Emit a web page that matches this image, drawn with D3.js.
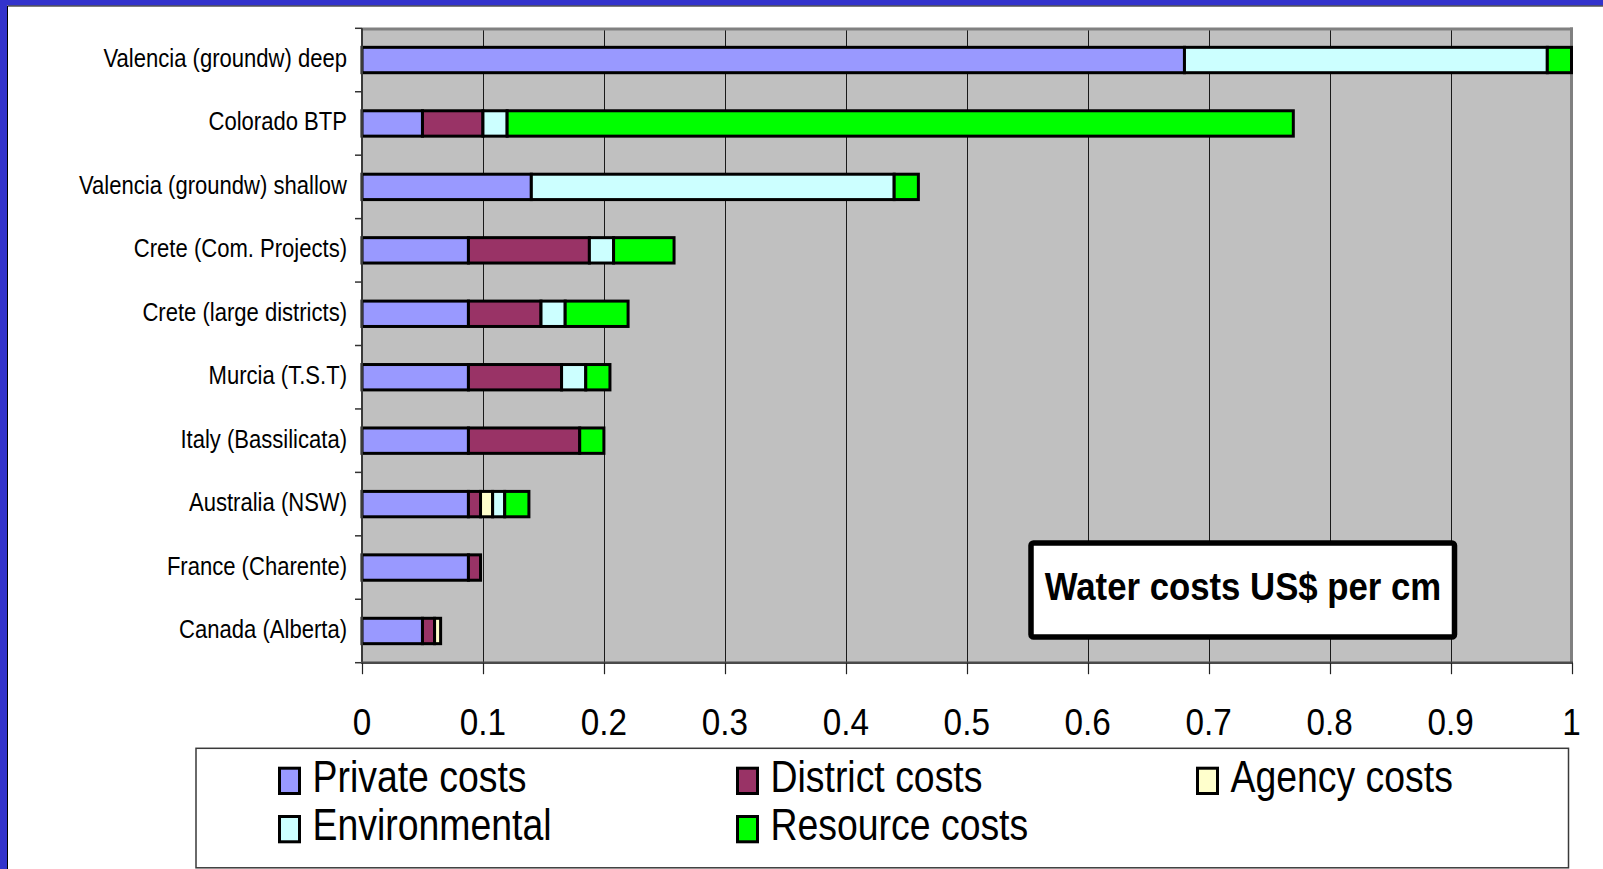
<!DOCTYPE html>
<html>
<head>
<meta charset="utf-8">
<script src="https://cdn.jsdelivr.net/npm/d3@7"></script>
<style>
  html, body { margin: 0; padding: 0; background: #ffffff; }
  svg { display: block; }
  text { font-family: "Liberation Sans", Arial, sans-serif; fill: #000; }
</style>
</head>
<body>
<svg id="chart" width="1603" height="869"></svg>
<script>
// ---- Data ----
const categories = [
  "Valencia (groundw) deep",
  "Colorado BTP",
  "Valencia (groundw) shallow",
  "Crete (Com. Projects)",
  "Crete (large districts)",
  "Murcia (T.S.T)",
  "Italy (Bassilicata)",
  "Australia (NSW)",
  "France (Charente)",
  "Canada (Alberta)"
];
const seriesNames = ["Private costs", "District costs", "Agency costs", "Environmental", "Resource costs"];
const privateCosts  = [0.68, 0.05, 0.14, 0.088, 0.088, 0.088, 0.088, 0.088, 0.088, 0.05];
const districtCosts = [0,    0.05, 0,    0.10,  0.06,  0.077, 0.092, 0.01,  0.01,  0.01];
const agencyCosts   = [0,    0,    0,    0,     0,     0,     0,     0.01,  0,     0.005];
const environmental = [0.30, 0.02, 0.30, 0.02,  0.02,  0.02,  0,     0.01,  0,     0];
const resourceCosts = [0.02, 0.65, 0.02, 0.05,  0.052, 0.02,  0.02,  0.02,  0,     0];
const xTicks = [0, 0.1, 0.2, 0.3, 0.4, 0.5, 0.6, 0.7, 0.8, 0.9, 1];
const xTickLabels = ["0", "0.1", "0.2", "0.3", "0.4", "0.5", "0.6", "0.7", "0.8", "0.9", "1"];
const titleText = "Water costs US$ per cm";
const colors = ["#9999FF", "#993366", "#FFFFCC", "#CCFFFF", "#00FF00"];

// ---- Build table ----
const seriesArrays = [privateCosts, districtCosts, agencyCosts, environmental, resourceCosts];
const table = categories.map((c, i) => {
  const row = { category: c };
  seriesNames.forEach((s, j) => { row[s] = seriesArrays[j][i]; });
  return row;
});

const svg = d3.select("#chart");

// frame (blue border top/left)
svg.append("rect").attr("x", 0).attr("y", 0).attr("width", 1603).attr("height", 5.5).attr("fill", "#3333CC");
svg.append("rect").attr("x", 0).attr("y", 0).attr("width", 7).attr("height", 869).attr("fill", "#3333CC");
svg.append("line").attr("x1", 7.5).attr("x2", 1603).attr("y1", 6).attr("y2", 6).attr("stroke", "#000").attr("stroke-width", 1);
svg.append("line").attr("x1", 7.5).attr("x2", 7.5).attr("y1", 6).attr("y2", 869).attr("stroke", "#000").attr("stroke-width", 1);

// plot geometry
const plot = { left: 362, right: 1571.5, top: 28.3, bottom: 662.7 };

const x = d3.scaleLinear().domain([0, 1]).range([plot.left, plot.right]);
const y = d3.scaleBand().domain(categories).range([plot.top, plot.bottom]).paddingInner(0.6).paddingOuter(0.3);

// plot background
svg.append("rect")
  .attr("x", plot.left).attr("y", plot.top)
  .attr("width", plot.right - plot.left + 1.5).attr("height", plot.bottom - plot.top)
  .attr("fill", "#C0C0C0");

// gridlines
svg.append("g").selectAll("line")
  .data(xTicks.filter(t => t > 0 && t < 1))
  .join("line")
  .attr("x1", d => Math.round(x(d)) + 0.5).attr("x2", d => Math.round(x(d)) + 0.5)
  .attr("y1", plot.top).attr("y2", plot.bottom)
  .attr("stroke", "#1a1a1a").attr("stroke-width", 1);

// plot border top/right (gray)
svg.append("line").attr("x1", plot.left).attr("x2", plot.right + 1.5).attr("y1", plot.top + 0.7).attr("y2", plot.top + 0.7)
  .attr("stroke", "#808080").attr("stroke-width", 3);
svg.append("line").attr("x1", plot.right).attr("x2", plot.right).attr("y1", plot.top - 0.8).attr("y2", plot.bottom)
  .attr("stroke", "#808080").attr("stroke-width", 3);

// stacked bars
const stack = d3.stack().keys(seriesNames);
const stacked = stack(table);
const barG = svg.append("g");
stacked.forEach((layer, j) => {
  barG.append("g")
    .selectAll("rect")
    .data(layer.filter(d => d[1] - d[0] > 0))
    .join("rect")
    .attr("x", d => x(d[0]))
    .attr("y", d => y(d.data.category))
    .attr("width", d => x(d[1]) - x(d[0]))
    .attr("height", y.bandwidth())
    .attr("fill", colors[j])
    .attr("stroke", "#000")
    .attr("stroke-width", 3);
});

// y axis line + ticks
svg.append("line").attr("x1", plot.left).attr("x2", plot.left).attr("y1", plot.top).attr("y2", plot.bottom + 1)
  .attr("stroke", "#3a3a3a").attr("stroke-width", 2);
const yBoundaries = d3.range(categories.length + 1).map(i => plot.top + i * y.step());
svg.append("g").selectAll("line").data(yBoundaries).join("line")
  .attr("x1", plot.left - 7).attr("x2", plot.left)
  .attr("y1", d => d).attr("y2", d => d)
  .attr("stroke", "#333").attr("stroke-width", 1.5);

// category labels
const catG = svg.append("g");
categories.forEach(c => {
  catG.append("g")
    .attr("transform", `translate(347, ${y(c) + y.bandwidth() / 2 + 7}) scale(0.865,1)`)
    .append("text")
    .attr("text-anchor", "end")
    .style("font-size", "25.5px")
    .text(c);
});

// x axis line + ticks
svg.append("line").attr("x1", plot.left - 1).attr("x2", plot.right + 1.5).attr("y1", plot.bottom).attr("y2", plot.bottom)
  .attr("stroke", "#4a4a4a").attr("stroke-width", 2.5);
const xAxisG = svg.append("g");
xTicks.forEach((t, i) => {
  xAxisG.append("line")
    .attr("x1", Math.round(x(t)) + 0.5).attr("x2", Math.round(x(t)) + 0.5)
    .attr("y1", plot.bottom).attr("y2", plot.bottom + 11.5)
    .attr("stroke", "#222").attr("stroke-width", 1.2);
  xAxisG.append("g")
    .attr("transform", `translate(${x(t)}, 735) scale(0.9,1)`)
    .append("text")
    .attr("text-anchor", "middle")
    .style("font-size", "37px")
    .text(xTickLabels[i]);
});

// title box
const tb = svg.append("g");
tb.append("rect")
  .attr("x", 1031).attr("y", 543).attr("width", 423.5).attr("height", 94)
  .attr("rx", 2.5)
  .attr("fill", "#ffffff").attr("stroke", "#000").attr("stroke-width", 5.5);
tb.append("g")
  .attr("transform", "translate(1243, 600) scale(0.88,1)")
  .append("text")
  .attr("text-anchor", "middle")
  .style("font-size", "39.5px")
  .style("font-weight", "bold")
  .text(titleText);

// legend
const lg = svg.append("g");
lg.append("rect")
  .attr("x", 196).attr("y", 748.3).attr("width", 1372.5).attr("height", 119.5)
  .attr("fill", "#ffffff").attr("stroke", "#3a3a3a").attr("stroke-width", 1.5);
const legendPos = [
  { mx: 279.5, row: 0 },  // Private
  { mx: 737.5, row: 0 },  // District
  { mx: 1197.5, row: 0 }, // Agency
  { mx: 279.5, row: 1 },  // Environmental
  { mx: 737.5, row: 1 }   // Resource
];
seriesNames.forEach((s, j) => {
  const p = legendPos[j];
  const top = p.row === 0 ? 768.2 : 816.5;
  lg.append("rect")
    .attr("x", p.mx).attr("y", top).attr("width", 20).attr("height", 25.3)
    .attr("fill", colors[j]).attr("stroke", "#000").attr("stroke-width", 3);
  lg.append("g")
    .attr("transform", `translate(${p.mx + 33}, ${top + 23.5}) scale(0.85,1)`)
    .append("text")
    .style("font-size", "44px")
    .text(s);
});
</script>
</body>
</html>
